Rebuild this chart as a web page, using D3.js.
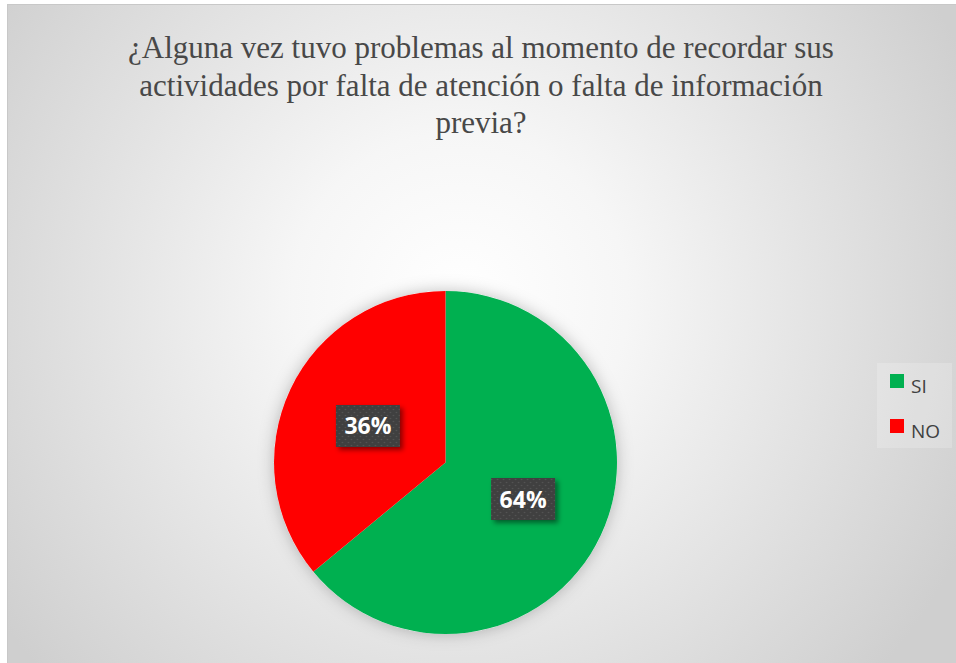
<!DOCTYPE html>
<html>
<head>
<meta charset="utf-8">
<script src="https://cdn.jsdelivr.net/npm/d3@7/dist/d3.min.js"></script>
<style>
  body { margin: 0; background: #fff; }
</style>
</head>
<body>
<div id="chart"></div>
<script>
var categories = ["SI", "NO"];
var values = [64, 36];
var colors = ["#00b050", "#ff0000"];
var titleLines = [
    "¿Alguna vez tuvo problemas al momento de recordar sus",
    "actividades por falta de atención o falta de información",
    "previa?"
];

var width = 956, height = 663;

var svg = d3.select("#chart")
    .append("svg")
        .attr("width", width)
        .attr("height", height);

var defs = svg.append("defs");

var bg = defs.append("radialGradient")
    .attr("id", "bg")
    .attr("gradientUnits", "userSpaceOnUse")
    .attr("cx", 460).attr("cy", 300).attr("r", 560);
bg.append("stop").attr("offset", "0").attr("stop-color", "#ffffff");
bg.append("stop").attr("offset", "0.3").attr("stop-color", "#f6f6f6");
bg.append("stop").attr("offset", "1").attr("stop-color", "#cfcfcf");

var dots = defs.append("pattern")
    .attr("id", "dots")
    .attr("patternUnits", "userSpaceOnUse")
    .attr("width", 6).attr("height", 6);
dots.append("rect").attr("width", 6).attr("height", 6).attr("fill", "#404040");
dots.append("circle").attr("cx", 1.5).attr("cy", 1.5).attr("r", 0.8).attr("fill", "#555");
dots.append("circle").attr("cx", 4.5).attr("cy", 4.5).attr("r", 0.8).attr("fill", "#555");

var glow = defs.append("filter").attr("id", "glow")
    .attr("x", "-20%").attr("y", "-20%").attr("width", "140%").attr("height", "140%");
glow.append("feDropShadow").attr("dx", 0).attr("dy", 0)
    .attr("stdDeviation", 8).attr("flood-color", "#000").attr("flood-opacity", 0.25);

var shadow = defs.append("filter").attr("id", "shadow")
    .attr("x", "-30%").attr("y", "-30%").attr("width", "160%").attr("height", "160%");
shadow.append("feDropShadow").attr("dx", 3).attr("dy", 3)
    .attr("stdDeviation", 2.5).attr("flood-color", "#000").attr("flood-opacity", 0.45);

// chart area
svg.append("rect")
    .attr("x", 7.5).attr("y", 4.5)
    .attr("width", width).attr("height", height)
    .attr("fill", "url(#bg)")
    .attr("stroke", "#c8c8c8");

// title
svg.append("g")
    .selectAll("text")
    .data(titleLines)
    .enter()
    .append("text")
        .attr("x", 481)
        .attr("y", (d, i) => 58 + i * 37.5)
        .attr("text-anchor", "middle")
        .style("font-family", "'Liberation Serif', 'Times New Roman', serif")
        .style("font-size", "31px")
        .style("fill", "#484848")
        .text(d => d);

// pie
var cx = 445.5, cy = 462.5, radius = 171.5;

var pie = d3.pie().sort(null).value(d => d)(values);
var arc = d3.arc().innerRadius(0).outerRadius(radius);
var labelArc = d3.arc().innerRadius(radius * 0.5).outerRadius(radius * 0.5);

var g = svg.append("g").attr("transform", `translate(${cx},${cy})`);

g.append("circle").attr("r", radius).attr("fill", "#fff").attr("filter", "url(#glow)");

g.selectAll("path")
    .data(pie)
    .enter()
    .append("path")
        .attr("d", arc)
        .attr("fill", (d, i) => colors[i]);

var labels = g.selectAll("g.label")
    .data(pie)
    .enter()
    .append("g")
        .attr("class", "label")
        .attr("transform", d => `translate(${labelArc.centroid(d)})`);

labels.append("rect")
    .attr("x", -32).attr("y", -21)
    .attr("width", 64).attr("height", 42)
    .attr("fill", "url(#dots)")
    .attr("filter", "url(#shadow)");

labels.append("text")
    .attr("text-anchor", "middle")
    .attr("y", 8.5)
    .style("font-family", "'Open Sans', 'Noto Sans', sans-serif")
    .style("font-weight", "bold")
    .style("font-size", "23px")
    .style("fill", "#fff")
    .text(d => d.data + "%");

// legend
var legend = svg.append("g");
legend.append("rect")
    .attr("x", 877).attr("y", 363)
    .attr("width", 75).attr("height", 85)
    .attr("fill", "#ffffff").attr("opacity", 0.2);

var items = legend.selectAll("g.item")
    .data(categories)
    .enter()
    .append("g")
        .attr("class", "item")
        .attr("transform", (d, i) => `translate(890,${374 + i * 45})`);

items.append("rect")
    .attr("width", 14).attr("height", 14)
    .attr("fill", (d, i) => colors[i]);

items.append("text")
    .attr("x", 21).attr("y", 19)
    .style("font-family", "'Open Sans', 'Noto Sans', sans-serif")
    .style("font-size", "19px")
    .style("fill", "#404040")
    .text(d => d);
</script>
</body>
</html>
